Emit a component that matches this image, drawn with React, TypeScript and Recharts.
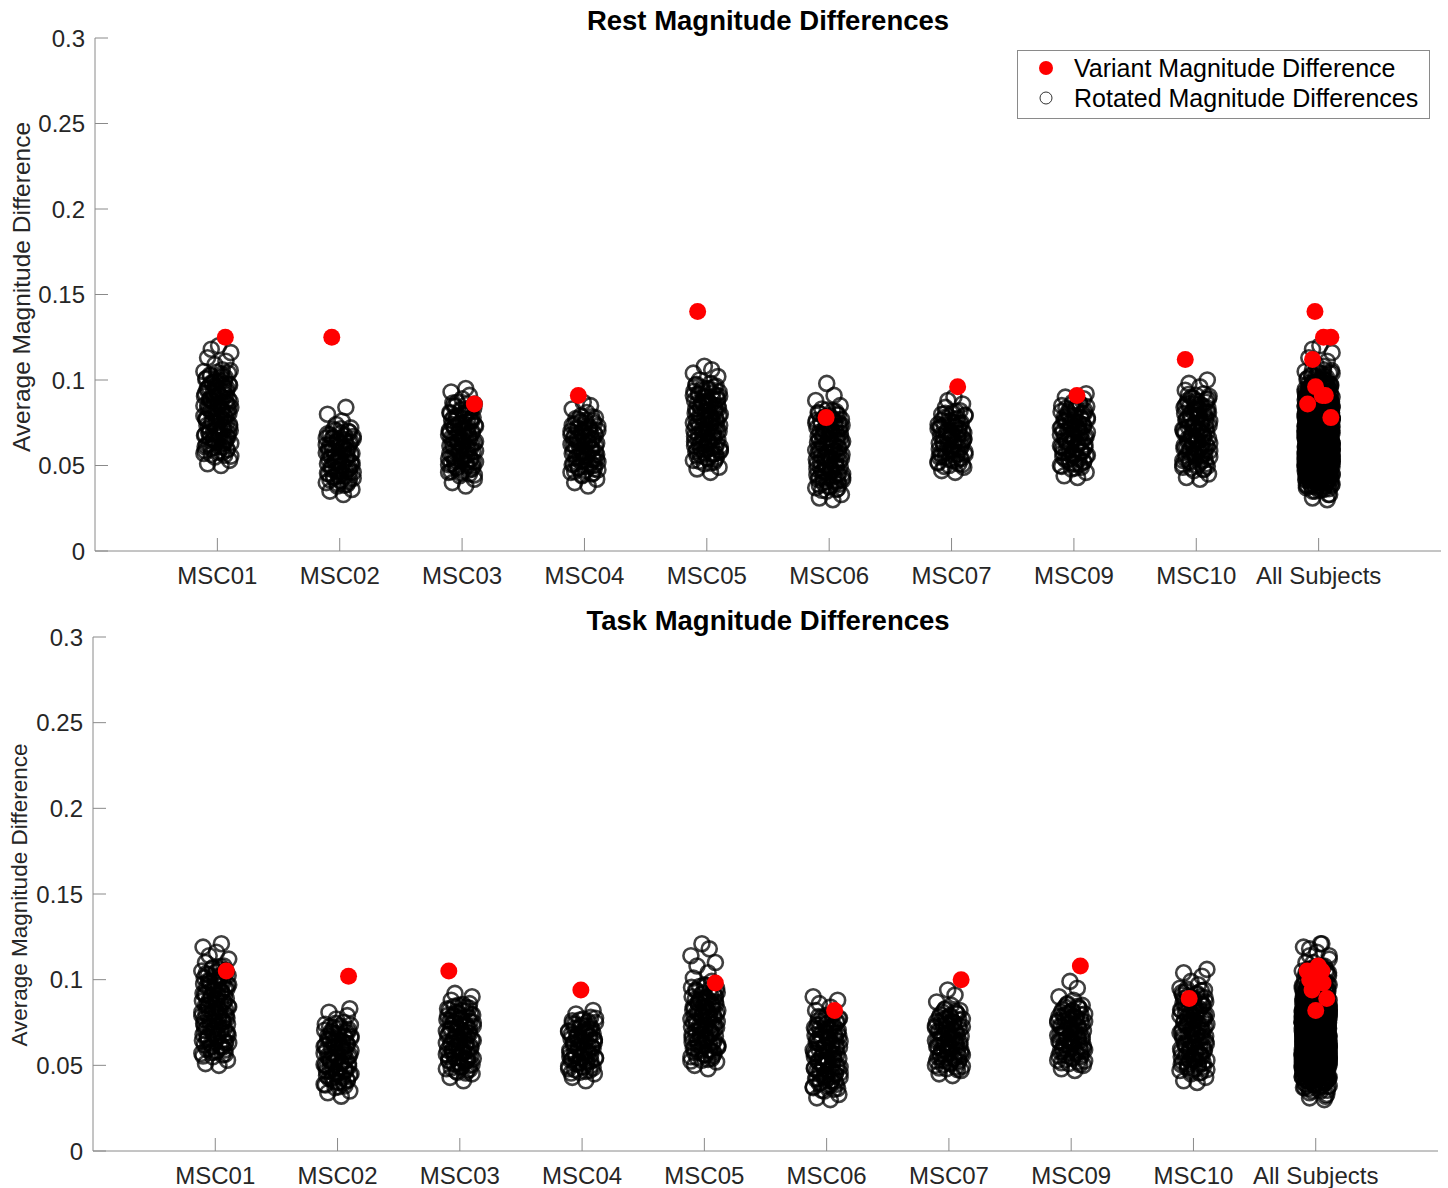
import React from 'react';
import { ScatterChart, Scatter, XAxis, YAxis } from 'recharts';

const categories = ['MSC01', 'MSC02', 'MSC03', 'MSC04', 'MSC05', 'MSC06', 'MSC07', 'MSC09', 'MSC10', 'All Subjects'];
const xTicks = [1, 2, 3, 4, 5, 6, 7, 8, 9, 10];
const yTicks = [0, 0.05, 0.1, 0.15, 0.2, 0.25, 0.3];

// horizontal scatter of the rotated points around each category (in category units)
const jitter = [
  0.03, -0.08, 0.10, -0.02, 0.06, -0.11, 0.01, 0.08, -0.05, 0.04,
  -0.09, 0.11, -0.01, 0.07, -0.06, 0.02, -0.10, 0.09, -0.03, 0.05,
  -0.07, 0.00, 0.10, -0.04, 0.06, -0.09, 0.03, -0.11, 0.08, -0.02,
  0.04, -0.06, 0.11, -0.08, 0.01, 0.07, -0.05, 0.09, -0.03, 0.02,
  -0.10, 0.05, -0.01, 0.08, -0.07, 0.10, -0.04, 0.00, 0.06, -0.09,
  0.03, -0.06, 0.09, -0.11, 0.04, -0.02, 0.07, -0.08, 0.11, -0.05,
  0.01, -0.10, 0.05, -0.03, 0.08, -0.07, 0.02, 0.10, -0.01, -0.09,
  0.06, -0.04, 0.09, -0.11, 0.03, -0.06, 0.07, 0.00, -0.08, 0.05,
  -0.02, 0.11, -0.05, 0.04, -0.10, 0.08, -0.03, 0.01, -0.07, 0.06,
  0.055, -0.035, 0.085, -0.105, 0.015, -0.065, 0.105, -0.015, 0.045, -0.085,
  0.075, -0.045, 0.025, -0.095, 0.065, -0.005, 0.095, -0.055, 0.035, -0.075,
  0.005, 0.085, -0.025, 0.105, -0.065, 0.045, -0.105, 0.015, -0.035, 0.075,
  -0.085, 0.055, -0.015, 0.095, -0.045, 0.025, -0.095, 0.065, -0.055, 0.035,
  -0.005, 0.105, -0.075, 0.005, 0.085, -0.025, 0.045, -0.105, 0.065, -0.035,
];

// Rest: rotated magnitude differences per subject
const restMSC01 = [0.050, 0.051, 0.053,
  0.055, 0.056, 0.057, 0.058, 0.059, 0.060, 0.061, 0.062, 0.063, 0.064, 0.065, 0.066, 0.067, 0.068, 0.069, 0.070, 0.071, 0.072, 0.073, 0.074, 0.075, 0.076, 0.077, 0.078, 0.079, 0.080,
  0.081, 0.082, 0.083, 0.084, 0.085, 0.086, 0.087, 0.088, 0.089, 0.090, 0.091, 0.092, 0.093, 0.094, 0.095, 0.096, 0.097, 0.098, 0.099, 0.100, 0.101, 0.102, 0.103, 0.104, 0.105, 0.106,
  0.109, 0.111, 0.113, 0.116, 0.118, 0.120,
  0.061, 0.063, 0.065, 0.067, 0.069, 0.071, 0.073, 0.075, 0.077, 0.079, 0.081, 0.083, 0.085, 0.087, 0.089, 0.091, 0.093, 0.095, 0.097, 0.099,
  0.0555, 0.0565, 0.0575, 0.0585, 0.0595, 0.0605, 0.0615, 0.0625, 0.0635, 0.0645, 0.0655, 0.0665, 0.0675, 0.0685, 0.0695, 0.0705, 0.0715, 0.0725, 0.0735, 0.0745, 0.0755, 0.0765, 0.0775, 0.0785, 0.0795,
  0.0805, 0.0815, 0.0825, 0.0835, 0.0845, 0.0855, 0.0865, 0.0875, 0.0885, 0.0895, 0.0905, 0.0915, 0.0925, 0.0935, 0.0945, 0.0955, 0.0965, 0.0975, 0.0985, 0.0995, 0.1005, 0.1015, 0.1025, 0.1035, 0.1045, 0.1055];
const restMSC02 = [0.033, 0.035, 0.036,
  0.038, 0.039, 0.040, 0.041, 0.042, 0.043, 0.044, 0.045, 0.046, 0.047, 0.048, 0.049, 0.050, 0.051, 0.052, 0.053, 0.054, 0.055,
  0.056, 0.057, 0.058, 0.059, 0.060, 0.061, 0.062, 0.063, 0.064, 0.065, 0.066, 0.067, 0.068, 0.069, 0.070, 0.071, 0.072,
  0.074, 0.076, 0.080, 0.084,
  0.044, 0.046, 0.048, 0.050, 0.052, 0.054, 0.056, 0.058, 0.060, 0.062, 0.064, 0.066,
  0.0385, 0.0395, 0.0405, 0.0415, 0.0425, 0.0435, 0.0445, 0.0455, 0.0465, 0.0475, 0.0485, 0.0495, 0.0505, 0.0515, 0.0525, 0.0535, 0.0545,
  0.0555, 0.0565, 0.0575, 0.0585, 0.0595, 0.0605, 0.0615, 0.0625, 0.0635, 0.0645, 0.0655, 0.0665, 0.0675, 0.0685, 0.0695, 0.0705, 0.0715];
const restMSC03 = [0.038, 0.040, 0.042,
  0.044, 0.045, 0.046, 0.047, 0.048, 0.049, 0.050, 0.051, 0.052, 0.053, 0.054, 0.055, 0.056, 0.057, 0.058, 0.059, 0.060, 0.061, 0.062, 0.063, 0.064, 0.065,
  0.066, 0.067, 0.068, 0.069, 0.070, 0.071, 0.072, 0.073, 0.074, 0.075, 0.076, 0.077, 0.078, 0.079, 0.080, 0.081, 0.082, 0.083, 0.084, 0.085, 0.086, 0.087,
  0.089, 0.091, 0.093, 0.095,
  0.050, 0.052, 0.054, 0.056, 0.058, 0.060, 0.062, 0.064, 0.066, 0.068, 0.070, 0.072, 0.074, 0.076, 0.078, 0.080,
  0.0445, 0.0455, 0.0465, 0.0475, 0.0485, 0.0495, 0.0505, 0.0515, 0.0525, 0.0535, 0.0545, 0.0555, 0.0565, 0.0575, 0.0585, 0.0595, 0.0605, 0.0615, 0.0625, 0.0635, 0.0645,
  0.0655, 0.0665, 0.0675, 0.0685, 0.0695, 0.0705, 0.0715, 0.0725, 0.0735, 0.0745, 0.0755, 0.0765, 0.0775, 0.0785, 0.0795, 0.0805, 0.0815, 0.0825, 0.0835, 0.0845, 0.0855, 0.0865];
const restMSC04 = [0.038, 0.040, 0.042,
  0.044, 0.045, 0.046, 0.047, 0.048, 0.049, 0.050, 0.051, 0.052, 0.053, 0.054, 0.055, 0.056, 0.057, 0.058, 0.059, 0.060, 0.061,
  0.062, 0.063, 0.064, 0.065, 0.066, 0.067, 0.068, 0.069, 0.070, 0.071, 0.072, 0.073, 0.074, 0.075, 0.076, 0.077, 0.078, 0.079,
  0.081, 0.083, 0.085, 0.087,
  0.050, 0.052, 0.054, 0.056, 0.058, 0.060, 0.062, 0.064, 0.066, 0.068, 0.070, 0.072,
  0.0445, 0.0455, 0.0465, 0.0475, 0.0485, 0.0495, 0.0505, 0.0515, 0.0525, 0.0535, 0.0545, 0.0555, 0.0565, 0.0575, 0.0585, 0.0595, 0.0605,
  0.0615, 0.0625, 0.0635, 0.0645, 0.0655, 0.0665, 0.0675, 0.0685, 0.0695, 0.0705, 0.0715, 0.0725, 0.0735, 0.0745, 0.0755, 0.0765, 0.0775, 0.0785];
const restMSC05 = [0.046, 0.048, 0.049,
  0.051, 0.052, 0.053, 0.054, 0.055, 0.056, 0.057, 0.058, 0.059, 0.060, 0.061, 0.062, 0.063, 0.064, 0.065, 0.066, 0.067, 0.068, 0.069, 0.070, 0.071, 0.072, 0.073, 0.074,
  0.075, 0.076, 0.077, 0.078, 0.079, 0.080, 0.081, 0.082, 0.083, 0.084, 0.085, 0.086, 0.087, 0.088, 0.089, 0.090, 0.091, 0.092, 0.093, 0.094, 0.095, 0.096, 0.097, 0.098,
  0.100, 0.102, 0.104, 0.106, 0.108,
  0.057, 0.059, 0.061, 0.063, 0.065, 0.067, 0.069, 0.071, 0.073, 0.075, 0.077, 0.079, 0.081, 0.083, 0.085, 0.087, 0.089, 0.091,
  0.0515, 0.0525, 0.0535, 0.0545, 0.0555, 0.0565, 0.0575, 0.0585, 0.0595, 0.0605, 0.0615, 0.0625, 0.0635, 0.0645, 0.0655, 0.0665, 0.0675, 0.0685, 0.0695, 0.0705, 0.0715, 0.0725, 0.0735,
  0.0745, 0.0755, 0.0765, 0.0775, 0.0785, 0.0795, 0.0805, 0.0815, 0.0825, 0.0835, 0.0845, 0.0855, 0.0865, 0.0875, 0.0885, 0.0895, 0.0905, 0.0915, 0.0925, 0.0935, 0.0945, 0.0955, 0.0965, 0.0975];
const restMSC06 = [0.030, 0.031, 0.033,
  0.035, 0.036, 0.037, 0.038, 0.039, 0.040, 0.041, 0.042, 0.043, 0.044, 0.045, 0.046, 0.047, 0.048, 0.049, 0.050, 0.051, 0.052, 0.053, 0.054, 0.055, 0.056, 0.057, 0.058, 0.059,
  0.060, 0.061, 0.062, 0.063, 0.064, 0.065, 0.066, 0.067, 0.068, 0.069, 0.070, 0.071, 0.072, 0.073, 0.074, 0.075, 0.076, 0.077, 0.078, 0.079, 0.080, 0.081, 0.082, 0.083,
  0.085, 0.088, 0.091, 0.098,
  0.041, 0.043, 0.045, 0.047, 0.049, 0.051, 0.053, 0.055, 0.057, 0.059, 0.061, 0.063, 0.065, 0.067, 0.069, 0.071, 0.073, 0.075, 0.077,
  0.0355, 0.0365, 0.0375, 0.0385, 0.0395, 0.0405, 0.0415, 0.0425, 0.0435, 0.0445, 0.0455, 0.0465, 0.0475, 0.0485, 0.0495, 0.0505, 0.0515, 0.0525, 0.0535, 0.0545, 0.0555, 0.0565, 0.0575, 0.0585,
  0.0595, 0.0605, 0.0615, 0.0625, 0.0635, 0.0645, 0.0655, 0.0665, 0.0675, 0.0685, 0.0695, 0.0705, 0.0715, 0.0725, 0.0735, 0.0745, 0.0755, 0.0765, 0.0775, 0.0785, 0.0795, 0.0805, 0.0815, 0.0825];
const restMSC07 = [0.046, 0.047,
  0.049, 0.050, 0.051, 0.052, 0.053, 0.054, 0.055, 0.056, 0.057, 0.058, 0.059, 0.060, 0.061, 0.062, 0.063, 0.064, 0.065,
  0.066, 0.067, 0.068, 0.069, 0.070, 0.071, 0.072, 0.073, 0.074, 0.075, 0.076, 0.077, 0.078, 0.079, 0.080, 0.081, 0.082,
  0.084, 0.086, 0.088, 0.090,
  0.055, 0.057, 0.059, 0.061, 0.063, 0.065, 0.067, 0.069, 0.071, 0.073, 0.075,
  0.0495, 0.0505, 0.0515, 0.0525, 0.0535, 0.0545, 0.0555, 0.0565, 0.0575, 0.0585, 0.0595, 0.0605, 0.0615, 0.0625, 0.0635, 0.0645,
  0.0655, 0.0665, 0.0675, 0.0685, 0.0695, 0.0705, 0.0715, 0.0725, 0.0735, 0.0745, 0.0755, 0.0765, 0.0775, 0.0785, 0.0795, 0.0805, 0.0815];
const restMSC09 = [0.043, 0.044, 0.046,
  0.048, 0.049, 0.050, 0.051, 0.052, 0.053, 0.054, 0.055, 0.056, 0.057, 0.058, 0.059, 0.060, 0.061, 0.062, 0.063, 0.064, 0.065, 0.066, 0.067,
  0.068, 0.069, 0.070, 0.071, 0.072, 0.073, 0.074, 0.075, 0.076, 0.077, 0.078, 0.079, 0.080, 0.081, 0.082, 0.083, 0.084, 0.085, 0.086, 0.087,
  0.089, 0.090, 0.092,
  0.054, 0.056, 0.058, 0.060, 0.062, 0.064, 0.066, 0.068, 0.070, 0.072, 0.074, 0.076, 0.078, 0.080,
  0.0485, 0.0495, 0.0505, 0.0515, 0.0525, 0.0535, 0.0545, 0.0555, 0.0565, 0.0575, 0.0585, 0.0595, 0.0605, 0.0615, 0.0625, 0.0635, 0.0645, 0.0655, 0.0665,
  0.0675, 0.0685, 0.0695, 0.0705, 0.0715, 0.0725, 0.0735, 0.0745, 0.0755, 0.0765, 0.0775, 0.0785, 0.0795, 0.0805, 0.0815, 0.0825, 0.0835, 0.0845, 0.0855, 0.0865];
const restMSC10 = [0.042, 0.043, 0.045,
  0.047, 0.048, 0.049, 0.050, 0.051, 0.052, 0.053, 0.054, 0.055, 0.056, 0.057, 0.058, 0.059, 0.060, 0.061, 0.062, 0.063, 0.064, 0.065, 0.066, 0.067, 0.068, 0.069,
  0.070, 0.071, 0.072, 0.073, 0.074, 0.075, 0.076, 0.077, 0.078, 0.079, 0.080, 0.081, 0.082, 0.083, 0.084, 0.085, 0.086, 0.087, 0.088, 0.089, 0.090, 0.091, 0.092,
  0.094, 0.096, 0.098, 0.100,
  0.053, 0.055, 0.057, 0.059, 0.061, 0.063, 0.065, 0.067, 0.069, 0.071, 0.073, 0.075, 0.077, 0.079, 0.081, 0.083, 0.085,
  0.0475, 0.0485, 0.0495, 0.0505, 0.0515, 0.0525, 0.0535, 0.0545, 0.0555, 0.0565, 0.0575, 0.0585, 0.0595, 0.0605, 0.0615, 0.0625, 0.0635, 0.0645, 0.0655, 0.0665, 0.0675, 0.0685,
  0.0695, 0.0705, 0.0715, 0.0725, 0.0735, 0.0745, 0.0755, 0.0765, 0.0775, 0.0785, 0.0795, 0.0805, 0.0815, 0.0825, 0.0835, 0.0845, 0.0855, 0.0865, 0.0875, 0.0885, 0.0895, 0.0905, 0.0915];
const restVariant = [0.125, 0.125, 0.086, 0.091, 0.140, 0.078, 0.096, 0.091, 0.112];
const restVariantJitter = [0.065, -0.065, 0.10, -0.05, -0.075, -0.025, 0.05, 0.025, -0.09];
const restAllJitter = [0.10, 0.04, -0.09, 0.055, -0.03, 0.10, -0.025, 0.03, -0.05];

// Task: rotated magnitude differences per subject
const taskMSC01 = [0.050, 0.051, 0.053,
  0.055, 0.056, 0.057, 0.058, 0.059, 0.060, 0.061, 0.062, 0.063, 0.064, 0.065, 0.066, 0.067, 0.068, 0.069, 0.070, 0.071, 0.072, 0.073, 0.074, 0.075, 0.076, 0.077, 0.078, 0.079, 0.080, 0.081,
  0.082, 0.083, 0.084, 0.085, 0.086, 0.087, 0.088, 0.089, 0.090, 0.091, 0.092, 0.093, 0.094, 0.095, 0.096, 0.097, 0.098, 0.099, 0.100, 0.101, 0.102, 0.103, 0.104, 0.105, 0.106, 0.107, 0.108,
  0.110, 0.112, 0.114, 0.116, 0.119, 0.121,
  0.061, 0.063, 0.065, 0.067, 0.069, 0.071, 0.073, 0.075, 0.077, 0.079, 0.081, 0.083, 0.085, 0.087, 0.089, 0.091, 0.093, 0.095, 0.097, 0.099, 0.101,
  0.0555, 0.0565, 0.0575, 0.0585, 0.0595, 0.0605, 0.0615, 0.0625, 0.0635, 0.0645, 0.0655, 0.0665, 0.0675, 0.0685, 0.0695, 0.0705, 0.0715, 0.0725, 0.0735, 0.0745, 0.0755, 0.0765, 0.0775, 0.0785, 0.0795, 0.0805,
  0.0815, 0.0825, 0.0835, 0.0845, 0.0855, 0.0865, 0.0875, 0.0885, 0.0895, 0.0905, 0.0915, 0.0925, 0.0935, 0.0945, 0.0955, 0.0965, 0.0975, 0.0985, 0.0995, 0.1005, 0.1015, 0.1025, 0.1035, 0.1045, 0.1055, 0.1065, 0.1075];
const taskMSC02 = [0.032, 0.034, 0.035,
  0.037, 0.038, 0.039, 0.040, 0.041, 0.042, 0.043, 0.044, 0.045, 0.046, 0.047, 0.048, 0.049, 0.050, 0.051, 0.052, 0.053, 0.054, 0.055, 0.056,
  0.057, 0.058, 0.059, 0.060, 0.061, 0.062, 0.063, 0.064, 0.065, 0.066, 0.067, 0.068, 0.069, 0.070, 0.071, 0.072, 0.073, 0.074, 0.075,
  0.077, 0.079, 0.081, 0.083,
  0.043, 0.045, 0.047, 0.049, 0.051, 0.053, 0.055, 0.057, 0.059, 0.061, 0.063, 0.065, 0.067, 0.069,
  0.0375, 0.0385, 0.0395, 0.0405, 0.0415, 0.0425, 0.0435, 0.0445, 0.0455, 0.0465, 0.0475, 0.0485, 0.0495, 0.0505, 0.0515, 0.0525, 0.0535, 0.0545, 0.0555,
  0.0565, 0.0575, 0.0585, 0.0595, 0.0605, 0.0615, 0.0625, 0.0635, 0.0645, 0.0655, 0.0665, 0.0675, 0.0685, 0.0695, 0.0705, 0.0715, 0.0725, 0.0735, 0.0745];
const taskMSC03 = [0.041, 0.043,
  0.045, 0.046, 0.047, 0.048, 0.049, 0.050, 0.051, 0.052, 0.053, 0.054, 0.055, 0.056, 0.057, 0.058, 0.059, 0.060, 0.061, 0.062, 0.063, 0.064, 0.065,
  0.066, 0.067, 0.068, 0.069, 0.070, 0.071, 0.072, 0.073, 0.074, 0.075, 0.076, 0.077, 0.078, 0.079, 0.080, 0.081, 0.082, 0.083, 0.084, 0.085, 0.086,
  0.088, 0.090, 0.092,
  0.051, 0.053, 0.055, 0.057, 0.059, 0.061, 0.063, 0.065, 0.067, 0.069, 0.071, 0.073, 0.075, 0.077, 0.079,
  0.0455, 0.0465, 0.0475, 0.0485, 0.0495, 0.0505, 0.0515, 0.0525, 0.0535, 0.0545, 0.0555, 0.0565, 0.0575, 0.0585, 0.0595, 0.0605, 0.0615, 0.0625, 0.0635, 0.0645,
  0.0655, 0.0665, 0.0675, 0.0685, 0.0695, 0.0705, 0.0715, 0.0725, 0.0735, 0.0745, 0.0755, 0.0765, 0.0775, 0.0785, 0.0795, 0.0805, 0.0815, 0.0825, 0.0835, 0.0845, 0.0855];
const taskMSC04 = [0.041, 0.043,
  0.045, 0.046, 0.047, 0.048, 0.049, 0.050, 0.051, 0.052, 0.053, 0.054, 0.055, 0.056, 0.057, 0.058, 0.059, 0.060, 0.061,
  0.062, 0.063, 0.064, 0.065, 0.066, 0.067, 0.068, 0.069, 0.070, 0.071, 0.072, 0.073, 0.074, 0.075, 0.076, 0.077, 0.078,
  0.080, 0.082,
  0.051, 0.053, 0.055, 0.057, 0.059, 0.061, 0.063, 0.065, 0.067, 0.069, 0.071,
  0.0455, 0.0465, 0.0475, 0.0485, 0.0495, 0.0505, 0.0515, 0.0525, 0.0535, 0.0545, 0.0555, 0.0565, 0.0575, 0.0585, 0.0595, 0.0605,
  0.0615, 0.0625, 0.0635, 0.0645, 0.0655, 0.0665, 0.0675, 0.0685, 0.0695, 0.0705, 0.0715, 0.0725, 0.0735, 0.0745, 0.0755, 0.0765, 0.0775];
const taskMSC05 = [0.048, 0.050,
  0.052, 0.053, 0.054, 0.055, 0.056, 0.057, 0.058, 0.059, 0.060, 0.061, 0.062, 0.063, 0.064, 0.065, 0.066, 0.067, 0.068, 0.069, 0.070, 0.071, 0.072, 0.073, 0.074,
  0.075, 0.076, 0.077, 0.078, 0.079, 0.080, 0.081, 0.082, 0.083, 0.084, 0.085, 0.086, 0.087, 0.088, 0.089, 0.090, 0.091, 0.092, 0.093, 0.094, 0.095, 0.096, 0.097,
  0.099, 0.101, 0.104, 0.108, 0.110, 0.114, 0.118, 0.121,
  0.058, 0.060, 0.062, 0.064, 0.066, 0.068, 0.070, 0.072, 0.074, 0.076, 0.078, 0.080, 0.082, 0.084, 0.086, 0.088, 0.090,
  0.0525, 0.0535, 0.0545, 0.0555, 0.0565, 0.0575, 0.0585, 0.0595, 0.0605, 0.0615, 0.0625, 0.0635, 0.0645, 0.0655, 0.0665, 0.0675, 0.0685, 0.0695, 0.0705, 0.0715, 0.0725, 0.0735,
  0.0745, 0.0755, 0.0765, 0.0775, 0.0785, 0.0795, 0.0805, 0.0815, 0.0825, 0.0835, 0.0845, 0.0855, 0.0865, 0.0875, 0.0885, 0.0895, 0.0905, 0.0915, 0.0925, 0.0935, 0.0945, 0.0955, 0.0965];
const taskMSC06 = [0.030, 0.031, 0.033,
  0.035, 0.036, 0.037, 0.038, 0.039, 0.040, 0.041, 0.042, 0.043, 0.044, 0.045, 0.046, 0.047, 0.048, 0.049, 0.050, 0.051, 0.052, 0.053, 0.054, 0.055, 0.056, 0.057,
  0.058, 0.059, 0.060, 0.061, 0.062, 0.063, 0.064, 0.065, 0.066, 0.067, 0.068, 0.069, 0.070, 0.071, 0.072, 0.073, 0.074, 0.075, 0.076, 0.077, 0.078, 0.079, 0.080,
  0.082, 0.084, 0.086, 0.088, 0.090,
  0.041, 0.043, 0.045, 0.047, 0.049, 0.051, 0.053, 0.055, 0.057, 0.059, 0.061, 0.063, 0.065, 0.067, 0.069, 0.071, 0.073,
  0.0355, 0.0365, 0.0375, 0.0385, 0.0395, 0.0405, 0.0415, 0.0425, 0.0435, 0.0445, 0.0455, 0.0465, 0.0475, 0.0485, 0.0495, 0.0505, 0.0515, 0.0525, 0.0535, 0.0545, 0.0555, 0.0565,
  0.0575, 0.0585, 0.0595, 0.0605, 0.0615, 0.0625, 0.0635, 0.0645, 0.0655, 0.0665, 0.0675, 0.0685, 0.0695, 0.0705, 0.0715, 0.0725, 0.0735, 0.0745, 0.0755, 0.0765, 0.0775, 0.0785, 0.0795];
const taskMSC07 = [0.044, 0.045,
  0.047, 0.048, 0.049, 0.050, 0.051, 0.052, 0.053, 0.054, 0.055, 0.056, 0.057, 0.058, 0.059, 0.060, 0.061, 0.062, 0.063, 0.064, 0.065,
  0.066, 0.067, 0.068, 0.069, 0.070, 0.071, 0.072, 0.073, 0.074, 0.075, 0.076, 0.077, 0.078, 0.079, 0.080, 0.081, 0.082, 0.083,
  0.085, 0.087, 0.091, 0.094,
  0.053, 0.055, 0.057, 0.059, 0.061, 0.063, 0.065, 0.067, 0.069, 0.071, 0.073, 0.075, 0.077,
  0.0475, 0.0485, 0.0495, 0.0505, 0.0515, 0.0525, 0.0535, 0.0545, 0.0555, 0.0565, 0.0575, 0.0585, 0.0595, 0.0605, 0.0615, 0.0625, 0.0635, 0.0645,
  0.0655, 0.0665, 0.0675, 0.0685, 0.0695, 0.0705, 0.0715, 0.0725, 0.0735, 0.0745, 0.0755, 0.0765, 0.0775, 0.0785, 0.0795, 0.0805, 0.0815, 0.0825];
const taskMSC09 = [0.047, 0.048,
  0.050, 0.051, 0.052, 0.053, 0.054, 0.055, 0.056, 0.057, 0.058, 0.059, 0.060, 0.061, 0.062, 0.063, 0.064, 0.065, 0.066, 0.067, 0.068,
  0.069, 0.070, 0.071, 0.072, 0.073, 0.074, 0.075, 0.076, 0.077, 0.078, 0.079, 0.080, 0.081, 0.082, 0.083, 0.084, 0.085, 0.086,
  0.088, 0.090, 0.095, 0.099,
  0.056, 0.058, 0.060, 0.062, 0.064, 0.066, 0.068, 0.070, 0.072, 0.074, 0.076, 0.078, 0.080,
  0.0505, 0.0515, 0.0525, 0.0535, 0.0545, 0.0555, 0.0565, 0.0575, 0.0585, 0.0595, 0.0605, 0.0615, 0.0625, 0.0635, 0.0645, 0.0655, 0.0665, 0.0675,
  0.0685, 0.0695, 0.0705, 0.0715, 0.0725, 0.0735, 0.0745, 0.0755, 0.0765, 0.0775, 0.0785, 0.0795, 0.0805, 0.0815, 0.0825, 0.0835, 0.0845, 0.0855];
const taskMSC10 = [0.040, 0.041, 0.043,
  0.045, 0.046, 0.047, 0.048, 0.049, 0.050, 0.051, 0.052, 0.053, 0.054, 0.055, 0.056, 0.057, 0.058, 0.059, 0.060, 0.061, 0.062, 0.063, 0.064, 0.065, 0.066, 0.067, 0.068, 0.069, 0.070,
  0.071, 0.072, 0.073, 0.074, 0.075, 0.076, 0.077, 0.078, 0.079, 0.080, 0.081, 0.082, 0.083, 0.084, 0.085, 0.086, 0.087, 0.088, 0.089, 0.090, 0.091, 0.092, 0.093, 0.094, 0.095,
  0.097, 0.099, 0.102, 0.104, 0.106,
  0.051, 0.053, 0.055, 0.057, 0.059, 0.061, 0.063, 0.065, 0.067, 0.069, 0.071, 0.073, 0.075, 0.077, 0.079, 0.081, 0.083, 0.085, 0.087, 0.089,
  0.0455, 0.0465, 0.0475, 0.0485, 0.0495, 0.0505, 0.0515, 0.0525, 0.0535, 0.0545, 0.0555, 0.0565, 0.0575, 0.0585, 0.0595, 0.0605, 0.0615, 0.0625, 0.0635, 0.0645, 0.0655, 0.0665, 0.0675, 0.0685, 0.0695,
  0.0705, 0.0715, 0.0725, 0.0735, 0.0745, 0.0755, 0.0765, 0.0775, 0.0785, 0.0795, 0.0805, 0.0815, 0.0825, 0.0835, 0.0845, 0.0855, 0.0865, 0.0875, 0.0885, 0.0895, 0.0905, 0.0915, 0.0925, 0.0935, 0.0945];
const taskVariant = [0.105, 0.102, 0.105, 0.094, 0.098, 0.082, 0.100, 0.108, 0.089];
const taskVariantJitter = [0.09, 0.09, -0.09, -0.01, 0.09, 0.065, 0.10, 0.075, -0.035];
const taskAllJitter = [-0.07, 0.03, 0.05, -0.03, 0.06, 0.00, -0.05, 0.02, 0.09];

const restRotated = [restMSC01, restMSC02, restMSC03, restMSC04, restMSC05, restMSC06, restMSC07, restMSC09, restMSC10];
const taskRotated = [taskMSC01, taskMSC02, taskMSC03, taskMSC04, taskMSC05, taskMSC06, taskMSC07, taskMSC09, taskMSC10];

const AXIS = '#8a8a8a';
const TEXT = '#262626';
const FONT = '"Liberation Sans", Arial, Helvetica, sans-serif';
const MARGIN = 8; // tickMargin, tickSize is 0 so the axis sits MARGIN px from the tick anchor

type Pt = { x: number; y: number };

// each subject's cloud at its own slot, then all of them pooled under "All Subjects"
function rotatedPoints(groups: number[][]): Pt[] {
  const pts: Pt[] = [];
  groups.forEach((vals, i) => vals.forEach((v, j) => pts.push({ x: i + 1 + jitter[j % jitter.length], y: v })));
  groups.forEach((vals, i) => vals.forEach((v, j) => pts.push({ x: 10 + jitter[(j + 7 * i) % jitter.length], y: v })));
  return pts;
}

function variantPoints(vals: number[], jit: number[], allJit: number[]): Pt[] {
  const pts: Pt[] = vals.map((v, i) => ({ x: i + 1 + jit[i], y: v }));
  vals.forEach((v, i) => pts.push({ x: 10 + allJit[i], y: v }));
  return pts;
}

// grey rings on their own, near-solid black where many overlap
const openCircle = (p: any) => (
  <circle cx={p.cx} cy={p.cy} r={7.5} fill="none" stroke="#000" strokeOpacity={0.75} strokeWidth={2.6} />
);
const redDot = (p: any) => <circle cx={p.cx} cy={p.cy} r={8.5} fill="#ff0000" />;

const XTick = (props: any) => {
  const { x, y, payload } = props;
  const ay = y - MARGIN;
  return (
    <g>
      <line x1={x} x2={x} y1={ay} y2={ay - 13} stroke={AXIS} />
      <text x={x} y={ay + 33} textAnchor="middle" fontSize={24} fill={TEXT} fontFamily={FONT}>
        {categories[payload.value - 1]}
      </text>
    </g>
  );
};

const YTick = (props: any) => {
  const { x, y, payload } = props;
  const ax = x + MARGIN;
  return (
    <g>
      <line x1={ax} x2={ax + 13} y1={y} y2={y} stroke={AXIS} />
      <text x={ax - 10} y={y + 8.5} textAnchor="end" fontSize={24} fill={TEXT} fontFamily={FONT}>
        {String(payload.value)}
      </text>
    </g>
  );
};

type PanelProps = {
  top: number;
  height: number;
  margin: { top: number; right: number; bottom: number; left: number };
  xAxisHeight: number;
  title: string;
  titleTop: number;
  labelX: number;
  labelY: number;
  labelSize: number;
  rotated: Pt[];
  variant: Pt[];
};

const Panel = (p: PanelProps) => (
  <div style={{ position: 'absolute', left: 0, top: p.top, width: 1448, height: p.height }}>
    <ScatterChart width={1448} height={p.height} margin={p.margin}>
      <XAxis
        type="number"
        dataKey="x"
        domain={[0, 11]}
        ticks={xTicks}
        interval={0}
        height={p.xAxisHeight}
        axisLine={{ stroke: AXIS }}
        tickLine={false}
        tickSize={0}
        tickMargin={MARGIN}
        tick={<XTick />}
      />
      <YAxis
        type="number"
        dataKey="y"
        domain={[0, 0.3]}
        ticks={yTicks}
        interval={0}
        width={80}
        axisLine={{ stroke: AXIS }}
        tickLine={false}
        tickSize={0}
        tickMargin={MARGIN}
        tick={<YTick />}
      />
      <Scatter data={p.rotated} shape={openCircle} isAnimationActive={false} />
      <Scatter data={p.variant} shape={redDot} isAnimationActive={false} />
    </ScatterChart>
    <div
      style={{
        position: 'absolute', left: 0, width: 1536, top: p.titleTop, textAlign: 'center',
        fontFamily: FONT, fontWeight: 700, fontSize: 27.5, lineHeight: '27px', color: '#000', whiteSpace: 'nowrap',
      }}
    >
      {p.title}
    </div>
    <div
      style={{
        position: 'absolute', left: p.labelX, top: p.labelY, transform: 'translate(-50%, -50%) rotate(-90deg)',
        fontFamily: FONT, fontSize: p.labelSize, color: TEXT, whiteSpace: 'nowrap', lineHeight: 1,
      }}
    >
      Average Magnitude Difference
    </div>
  </div>
);

const LegendBox = () => (
  <div
    style={{
      position: 'absolute', left: 1017, top: 50, width: 411, height: 65, border: `1px solid ${AXIS}`,
      background: '#fff', fontFamily: FONT, fontSize: 25, color: '#000', paddingTop: 2,
    }}
  >
    {[
      { name: 'Variant Magnitude Difference', filled: true },
      { name: 'Rotated Magnitude Differences', filled: false },
    ].map((item) => (
      <div key={item.name} style={{ display: 'flex', alignItems: 'center', height: 30, whiteSpace: 'nowrap' }}>
        <svg width={16} height={16} style={{ marginLeft: 20, marginRight: 20, flex: 'none' }}>
          {item.filled ? (
            <circle cx={8} cy={8} r={7} fill="#ff0000" />
          ) : (
            <circle cx={8} cy={8} r={6} fill="none" stroke="#000" strokeOpacity={0.8} />
          )}
        </svg>
        <span>{item.name}</span>
      </div>
    ))}
  </div>
);

export default function App() {
  return (
    <div style={{ position: 'absolute', left: 0, top: 0, width: 1448, height: 1188, background: '#fff', overflow: 'hidden' }}>
      <Panel
        top={0}
        height={600}
        margin={{ top: 38, right: 7, bottom: 9, left: 15 }}
        xAxisHeight={40}
        title="Rest Magnitude Differences"
        titleTop={7}
        labelX={22}
        labelY={287}
        labelSize={24.5}
        rotated={rotatedPoints(restRotated)}
        variant={variantPoints(restVariant, restVariantJitter, restAllJitter)}
      />
      <LegendBox />
      <Panel
        top={600}
        height={588}
        margin={{ top: 37, right: 10, bottom: 2, left: 13 }}
        xAxisHeight={35}
        title="Task Magnitude Differences"
        titleTop={7}
        labelX={20}
        labelY={295}
        labelSize={22.5}
        rotated={rotatedPoints(taskRotated)}
        variant={variantPoints(taskVariant, taskVariantJitter, taskAllJitter)}
      />
    </div>
  );
}
